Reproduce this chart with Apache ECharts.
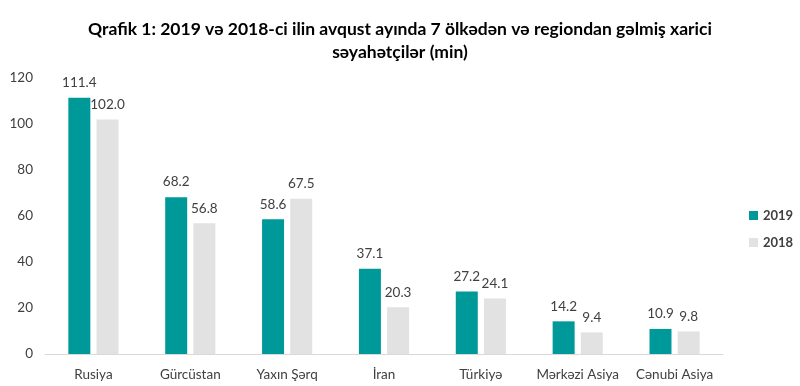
<!DOCTYPE html>
<html><head><meta charset="utf-8">
<script src="https://cdn.jsdelivr.net/npm/echarts@6/dist/echarts.min.js"></script>
<style>html,body{margin:0;padding:0;background:#fff}#c{width:800px;height:386px}</style>
</head><body><div id="c"></div>
<script>
const categories = ["Rusiya","Gürcüstan","Yaxın Şərq","İran","Türkiyə","Mərkəzi Asiya","Cənubi Asiya"];
const values2019 = [111.4,68.2,58.6,37.1,27.2,14.2,10.9];
const values2018 = [102.0,56.8,67.5,20.3,24.1,9.4,9.8];
const yTicks = [0,20,40,60,80,100,120];
const titleText = "Qrafik 1: 2019 və 2018-ci ilin avqust ayında 7 ölkədən və regiondan gəlmiş xarici\nsəyahətçilər (min)";
const font = "Lato, 'Open Sans', sans-serif";
const chart = echarts.init(document.getElementById('c'));
const lbl = {show:true, position:'top', formatter:p=>p.value.toFixed(1), color:'#404040', fontSize:13.5, fontFamily:font, distance:8};
chart.setOption({
  animation:false,
  title:{text:titleText, left:'center', top:13, textStyle:{fontFamily:font, fontSize:17.5, fontWeight:'bold', color:'#000', lineHeight:23}},
  legend:{orient:'vertical', left:744, top:204, itemWidth:9, itemHeight:9, itemGap:14, icon:'rect',
    textStyle:{fontFamily:font, fontSize:13, fontWeight:'bold', color:'#404040'}, data:['2019','2018']},
  grid:{left:45, right:77, top:78, bottom:32},
  xAxis:{type:'category', data:categories, axisLine:{lineStyle:{color:'#d9d9d9'}}, axisTick:{show:false},
    axisLabel:{interval:0, color:'#404040', fontSize:13.5, fontFamily:font, margin:14}},
  yAxis:{type:'value', min:0, max:120, interval:20, splitLine:{show:false}, axisLine:{show:false}, axisTick:{show:false},
    axisLabel:{color:'#404040', fontSize:13.5, fontFamily:font, margin:12, formatter:v=>yTicks.includes(v)?String(v):''}},
  series:[
    {name:'2019', type:'bar', data:values2019, barWidth:22, barGap:'28%', itemStyle:{color:'#009999'}, label:lbl},
    {name:'2018', type:'bar', data:values2018, barWidth:22, itemStyle:{color:'#e2e2e2'}, label:lbl}
  ]
});
</script></body></html>
